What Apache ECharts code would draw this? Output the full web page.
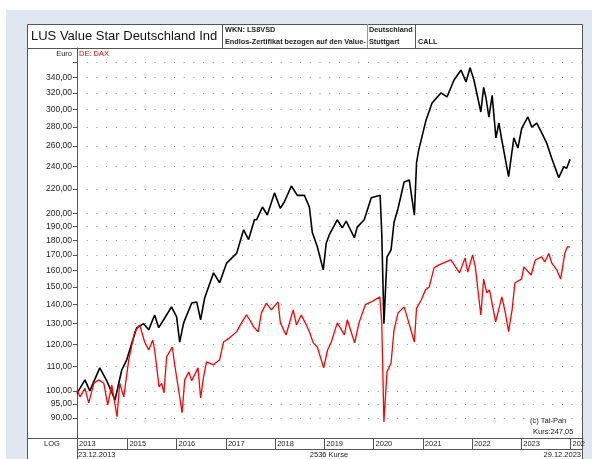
<!DOCTYPE html>
<html>
<head>
<meta charset="utf-8">
<script src="https://cdn.jsdelivr.net/npm/echarts@6/dist/echarts.min.js"></script>
<style>
  html, body { margin: 0; padding: 0; background: #fff; }
  #container { width: 592px; height: 459px; }
</style>
</head>
<body>
<div id="container"></div>
<script>
var dom = document.getElementById("container");
var myChart = echarts.init(dom);

// LUS Value Star Deutschland (black)
var lusDates = [
    '2013-12-23', '2014-02-20', '2014-03-28', '2014-06-10', '2014-08-01', '2014-10-01',
    '2014-11-20', '2014-12-27', '2015-02-03', '2015-03-11', '2015-05-02', '2015-06-08',
    '2015-07-22', '2015-08-21', '2015-09-27', '2015-11-24', '2016-01-01', '2016-01-24',
    '2016-02-22', '2016-04-22', '2016-05-29', '2016-06-27', '2016-07-27', '2016-10-01',
    '2016-11-15', '2017-01-06', '2017-03-21', '2017-05-12', '2017-06-18', '2017-08-01',
    '2017-08-16', '2017-09-29', '2017-11-04', '2017-12-27', '2018-02-08', '2018-03-10',
    '2018-05-01', '2018-06-15', '2018-08-06', '2018-09-12', '2018-10-04', '2018-11-10',
    '2018-12-24', '2019-01-15', '2019-02-07', '2019-04-07', '2019-05-14', '2019-06-12',
    '2019-08-12', '2019-09-02', '2019-10-24', '2019-12-15', '2020-02-19', '2020-03-02',
    '2020-03-18', '2020-04-10', '2020-05-10', '2020-06-01', '2020-07-01', '2020-08-15',
    '2020-09-22', '2020-10-30', '2020-11-15', '2020-12-01', '2021-01-25', '2021-03-10',
    '2021-05-16', '2021-06-29', '2021-08-20', '2021-10-11', '2021-11-17', '2021-12-17',
    '2022-01-15', '2022-03-07', '2022-03-28', '2022-04-14', '2022-05-06', '2022-05-30',
    '2022-06-27', '2022-07-19', '2022-08-10', '2022-09-29', '2022-11-07', '2022-12-07',
    '2023-01-05', '2023-02-19', '2023-03-20', '2023-04-26', '2023-06-03', '2023-07-09',
    '2023-08-15', '2023-10-06', '2023-11-12', '2023-12-04', '2023-12-29'
];
var lusValues = [
    99, 104.4, 100, 109.4, 104, 96.5,
    108.5, 112.9, 120.6, 127.9, 130, 126.9,
    134.5, 128, 132, 138.8, 133.5, 121,
    130.4, 140.9, 141.5, 132, 143.7, 158.5,
    152.5, 164.7, 171, 187.5, 180.5, 195.2,
    195, 205, 198.7, 216.6, 204, 209,
    222.5, 214.5, 214.5, 205, 185.5, 175.5,
    160.4, 178, 184, 195, 189, 194,
    181.8, 189.5, 195, 212.5, 214.6, 185,
    130, 168.7, 173.4, 193, 204, 226,
    227.8, 198.5, 243.5, 256, 288, 307.6,
    320, 315, 336.5, 350, 334, 353,
    336.5, 297, 327, 314, 291, 317,
    268.5, 284.5, 266, 230.8, 268.5, 258,
    279, 291.3, 280, 284.5, 273.6, 263,
    248, 229.9, 239.8, 238.5, 247.05
];

// DE: DAX (red), rebased
var daxDates = [
    '2013-12-23', '2014-01-14', '2014-02-20', '2014-03-20', '2014-04-27', '2014-06-03',
    '2014-07-10', '2014-08-08', '2014-09-07', '2014-10-16', '2014-11-05', '2014-12-05',
    '2015-01-11', '2015-02-24', '2015-04-02', '2015-05-09', '2015-06-08', '2015-07-08',
    '2015-07-22', '2015-08-24', '2015-09-12', '2015-09-29', '2015-10-19', '2015-11-30',
    '2015-12-16', '2016-02-11', '2016-03-01', '2016-04-01', '2016-04-22', '2016-06-08',
    '2016-06-27', '2016-07-19', '2016-08-10', '2016-10-01', '2016-11-15', '2016-12-14',
    '2017-01-28', '2017-03-21', '2017-04-26', '2017-06-03', '2017-06-26', '2017-07-25',
    '2017-08-29', '2017-09-21', '2017-10-28', '2017-12-04', '2018-01-23', '2018-02-09',
    '2018-03-23', '2018-05-15', '2018-06-08', '2018-07-14', '2018-08-20', '2018-09-12',
    '2018-10-11', '2018-11-10', '2018-12-27', '2019-01-25', '2019-02-22', '2019-04-07',
    '2019-05-30', '2019-06-20', '2019-08-14', '2019-09-15', '2019-11-01', '2019-12-15',
    '2020-02-17', '2020-03-02', '2020-03-18', '2020-04-10', '2020-05-10', '2020-06-01',
    '2020-07-01', '2020-08-15', '2020-09-06', '2020-10-30', '2020-11-15', '2020-12-20',
    '2021-01-20', '2021-02-17', '2021-03-25', '2021-05-01', '2021-06-22', '2021-07-28',
    '2021-09-30', '2021-11-10', '2021-11-30', '2022-01-05', '2022-01-25', '2022-03-07',
    '2022-03-28', '2022-04-20', '2022-05-10', '2022-06-25', '2022-08-10', '2022-09-05',
    '2022-09-29', '2022-10-25', '2022-11-15', '2023-01-03', '2023-01-20', '2023-03-15',
    '2023-04-15', '2023-06-01', '2023-06-25', '2023-07-24', '2023-08-15', '2023-09-21',
    '2023-10-20', '2023-11-20', '2023-12-08', '2023-12-29'
];
var daxValues = [
    100.4, 97.7, 101, 95.4, 103, 104.4,
    103, 94.7, 102.4, 90.4, 103, 97.7,
    112.9, 125.9, 129.4, 121, 117.3, 122,
    117.3, 101.6, 103, 99.2, 114.2, 118.7,
    111.5, 91.8, 104.4, 107.7, 104, 109.4,
    97.3, 105.6, 112, 110.7, 112.9, 121,
    123, 125.9, 130.4, 134.5, 132, 128.4,
    126, 135.6, 140.9, 137.2, 141.5, 130.4,
    124.4, 137.2, 129.4, 134.5, 129.4, 126,
    120.6, 118.7, 109.4, 117.3, 121, 130.4,
    124.4, 132, 120.6, 130.4, 140, 141.5,
    144.3, 130.4, 88.6, 107.7, 111.5, 126.9,
    135.6, 138.8, 133.5, 121, 138, 142.6,
    148.3, 150, 161.6, 163.5, 165.4, 166.7,
    158.5, 168, 159, 170, 162.3, 134.5,
    154.7, 146.6, 148.3, 130.9, 144.3, 135.6,
    126, 137.2, 152.5, 154.7, 162.3, 157.2,
    166.7, 168.7, 165.4, 171, 164.8, 160.4,
    154.7, 171, 175.4, 175.4
];

var yLabelValues = [90, 95, 100, 110, 120, 130, 140, 150, 160, 170, 180, 190, 200,
    220, 240, 260, 280, 300, 320, 340];
var yGridValues = yLabelValues.concat([360]);
var yearTicks = ['2013-12-23', '2015-01-01', '2016-01-01', '2017-01-01', '2018-01-01',
    '2019-01-01', '2020-01-01', '2021-01-01', '2022-01-01', '2023-01-01', '2024-01-01'];

var smallFont = '7.5px "Liberation Sans"';
var headFont = 'bold 7.3px "Liberation Sans"';

function toPoints(dates, values) {
    return dates.map(function (d, i) {
        return [Date.parse(d), Math.log10(values[i])];
    });
}
function label(text, x, y, opts) {
    opts = opts || {};
    return {
        type: 'text',
        x: x, y: y,
        style: {
            text: text,
            font: opts.font || smallFont,
            fill: opts.fill || '#222',
            align: opts.align || 'left', textAlign: opts.align || 'left',
            verticalAlign: 'middle', textVerticalAlign: 'middle'
        }
    };
}
function hline(x1, x2, y, color) {
    return { type: 'line', shape: { x1: x1, y1: y, x2: x2, y2: y },
        style: { stroke: color || '#555', lineWidth: 1 } };
}
function vline(x, y1, y2, color) {
    return { type: 'line', shape: { x1: x, y1: y1, x2: x, y2: y2 },
        style: { stroke: color || '#555', lineWidth: 1 } };
}

var lastKurs = lusValues[lusValues.length - 1].toFixed(2).replace('.', ',');
var firstDate = lusDates[0].split('-').reverse().join('.');
var lastDate = lusDates[lusDates.length - 1].split('-').reverse().join('.');

option = {
    animation: false,
    backgroundColor: '#fff',
    grid: {
        left: 77,
        top: 48,
        width: 506,
        height: 390
    },
    xAxis: {
        type: 'value',
        min: Date.parse('2013-12-23'),
        max: Date.parse('2024-04-03'),
        axisLine: { show: true, lineStyle: { color: '#555', width: 1 } },
        axisTick: {
            show: true,
            length: 11,
            customValues: yearTicks.map(Date.parse),
            lineStyle: { color: '#555' }
        },
        axisLabel: {
            customValues: yearTicks.map(Date.parse),
            align: 'left',
            margin: 2,
            padding: [0, 0, 0, 2],
            fontFamily: 'Liberation Sans',
            fontSize: 7.5,
            color: '#222',
            formatter: function (v) {
                var y = new Date(v).getUTCFullYear();
                // the last cell is cut off by the frame
                return y === 2024 ? String(y).slice(0, 3) : String(y);
            }
        },
        splitLine: { show: false }
    },
    yAxis: {
        type: 'value',
        min: Math.log10(83.2),
        max: Math.log10(381.3),
        axisLine: { show: true, lineStyle: { color: '#555', width: 1 } },
        axisTick: {
            show: true,
            length: 4,
            customValues: yGridValues.map(Math.log10),
            lineStyle: { color: '#555' }
        },
        axisLabel: {
            customValues: yLabelValues.map(Math.log10),
            margin: 5,
            fontFamily: 'Liberation Sans',
            fontSize: 8.5,
            color: '#222',
            formatter: function (v) {
                return Math.pow(10, v).toFixed(2).replace('.', ',');
            }
        },
        splitLine: {
            show: true,
            lineStyle: { color: '#888', width: 1, type: [1, 8.7] }
        }
    },
    graphic: [
        { type: 'rect', shape: { x: 6, y: 10, width: 586, height: 449 },
          style: { fill: '#e1e7f1' }, z: -10 },
        { type: 'rect', shape: { x: 27.5, y: 24.5, width: 555, height: 440 },
          style: { fill: '#fff', stroke: '#555', lineWidth: 1 }, z: -9 },
        hline(27, 583, 48.5),
        vline(222.5, 24, 48),
        vline(367.5, 24, 48, '#999'),
        vline(415.5, 24, 48),
        hline(27, 77, 438.5),
        vline(77.5, 438, 459),
        hline(77, 583, 449.5),
        label('LUS Value Star Deutschland Ind', 31, 36.5, { font: '13px "Liberation Sans"', fill: '#111' }),
        label('WKN: LS8VSD', 225, 30, { font: headFont }),
        label('Endlos-Zertifikat bezogen auf den Value-', 225, 42, { font: headFont }),
        label('Deutschland', 369, 30, { font: headFont }),
        label('Stuttgart', 369, 42, { font: headFont }),
        label('CALL', 418, 42, { font: headFont }),
        label('Euro', 72, 53.5, { align: 'right' }),
        label('DE: DAX', 79, 53.5, { fill: '#ff0000' }),
        label('(c) Tai-Pan', 530, 421),
        label('Kurs:' + lastKurs, 533, 432),
        label('LOG', 52, 444, { align: 'center' }),
        label(firstDate, 78, 454.5),
        label(lusDates.length > 0 ? '2536 Kurse' : '', 329, 454.5, { align: 'center' }),
        label(lastDate, 581, 454.5, { align: 'right' })
    ],
    series: [{
        name: 'LUS Value Star Deutschland Ind',
        type: 'line',
        showSymbol: false,
        lineStyle: { color: '#000', width: 1.6 },
        data: toPoints(lusDates, lusValues)
    }, {
        name: 'DE: DAX',
        type: 'line',
        showSymbol: false,
        lineStyle: { color: '#ff0000', width: 1.3 },
        data: toPoints(daxDates, daxValues)
    }]
};
if (option && typeof option === "object") {
    myChart.setOption(option, true);
}
</script>
</body>
</html>
